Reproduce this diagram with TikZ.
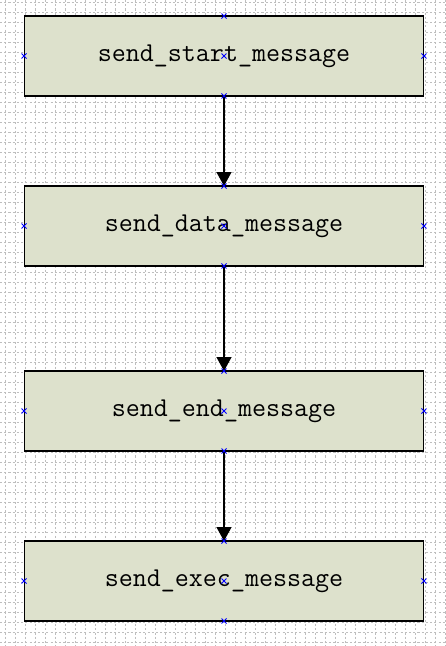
\documentclass[tikz,border=0pt]{standalone}
\usetikzlibrary{arrows.meta}
\definecolor{fond}{RGB}{221,225,204}
\definecolor{grisgrille}{RGB}{190,190,190}
\begin{document}
\begin{tikzpicture}[x=0.02cm,y=-0.02cm]
			\tikzstyle{grille}=[grisgrille,line width=0.4pt,dash pattern=on 1.2pt off 1.2pt]
			\tikzstyle{boite}=[draw=black,line width=0.6pt,fill=fond,minimum width=8cm,minimum height=1.6cm,inner sep=0pt,outer sep=0pt,font=\fontsize{15.5}{18}\selectfont\ttfamily]
			\tikzstyle{fleche}=[-{Triangle[width=0.3cm,length=0.28cm]},line width=0.7pt]
			\tikzstyle{marque}=[blue,line width=0.5pt]
			\def\Colonne{224}
			\def\NiveauA{56}
			\def\NiveauB{226}
			\def\NiveauC{411}
			\def\NiveauD{581}
			\useasboundingbox (0,0) rectangle (446,646);
			\fill[white] (0,0) rectangle (446,646);
			\foreach \i in {5,15,...,445} \draw[grille] (\i,0) -- (\i,646);
			\foreach \j in {2,12,...,642} \draw[grille] (0,\j) -- (446,\j);
			\node[boite] (A) at (\Colonne,\NiveauA) {send\_start\_message};
			\node[boite] (B) at (\Colonne,\NiveauB) {send\_data\_message};
			\node[boite] (C) at (\Colonne,\NiveauC) {send\_end\_message};
			\node[boite] (D) at (\Colonne,\NiveauD) {send\_exec\_message};
			\draw[fleche] (A.south)--(B.north);
			\draw[fleche] (B.south)--(C.north);
			\draw[fleche] (C.south)--(D.north);
			\foreach \n in {A,B,C,D}
				\foreach \a in {north,south,east,west,center}
					\draw[marque] (\n.\a) +(-2.5,-2.5) -- +(2.5,2.5) (\n.\a) +(-2.5,2.5) -- +(2.5,-2.5);
		\end{tikzpicture}
\end{document}
